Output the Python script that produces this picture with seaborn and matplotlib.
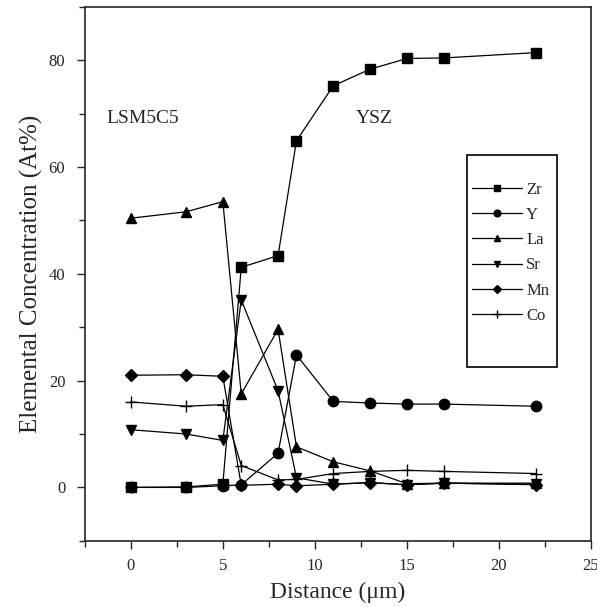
import pandas as pd
import numpy as np
import matplotlib
matplotlib.use('Agg')
import matplotlib.pyplot as plt
import matplotlib.ticker as ticker
import matplotlib.patches as patches
import seaborn as sns

# dados
distance = [0, 3, 5, 6, 8, 9, 11, 13, 15, 17, 22]
zr = [0.0, 0.1, 0.6, 41.2, 43.4, 64.9, 75.2, 78.3, 80.3, 80.4, 81.4]
y_ = [0.0, 0.0, 0.3, 0.5, 6.4, 24.8, 16.1, 15.8, 15.6, 15.6, 15.2]
la = [50.4, 51.6, 53.5, 17.5, 29.6, 7.6, 4.8, 3.1, 0.7, 0.8, 0.8]
sr = [10.8, 10.0, 8.8, 35.1, 18.1, 1.8, 0.6, 0.9, 0.5, 0.8, 0.6]
mn = [21.0, 21.1, 20.8, 0.4, 0.6, 0.3, 0.6, 0.9, 0.5, 0.8, 0.5]
co = [16.0, 15.2, 15.5, 4.1, 1.4, 1.5, 2.6, 3.0, 3.2, 3.0, 2.6]

elements = ['Zr', 'Y', 'La', 'Sr', 'Mn', 'Co']
series = [zr, y_, la, sr, mn, co]

df = pd.DataFrame({'distance': distance})
for el, vals in zip(elements, series):
    df[el] = vals
df_long = df.melt(id_vars='distance', var_name='element', value_name='conc')

#%%

sns.set_style('ticks')
plt.rcParams['font.family'] = ['Liberation Serif', 'DejaVu Serif']

fig = plt.figure(figsize=(5.97, 6.07), dpi=100)
ax = fig.add_axes([0.142, 0.109, 0.848, 0.880])

markers = {'Zr': 's', 'Y': 'o', 'La': '^', 'Sr': 'v', 'Mn': 'D', 'Co': '+'}
sizes_m = {'Zr': 7, 'Y': 7.5, 'La': 7.5, 'Sr': 7.5, 'Mn': 6, 'Co': 9}

for el in elements:
    sns.lineplot(
        data=df_long[df_long['element'] == el],
        x='distance', y='conc',
        color='black', linewidth=0.9,
        marker=markers[el], markersize=sizes_m[el],
        markeredgecolor='black', markerfacecolor='black',
        markeredgewidth=1.0,
        label=el, ax=ax
    )

ax.set_xlim(-2.5, 25)
ax.set_ylim(-10, 90)
ax.xaxis.set_major_locator(ticker.MultipleLocator(5))
ax.xaxis.set_minor_locator(ticker.MultipleLocator(2.5))
ax.yaxis.set_major_locator(ticker.FixedLocator([0, 20, 40, 60, 80]))
ax.yaxis.set_minor_locator(ticker.MultipleLocator(10))
ax.tick_params(which='major', direction='out', length=6, width=1, labelsize=12)
ax.tick_params(axis='x', which='major', pad=6)
ax.tick_params(axis='y', which='major', pad=8)
ax.tick_params(which='minor', direction='out', length=4, width=1)
for s in ax.spines.values():
    s.set_linewidth(1.2)

ax.set_xlabel('Distance (μm)', fontsize=17, labelpad=6)
ax.set_ylabel('Elemental Concentration (At%)', fontsize=18, labelpad=4)

ax.text(-1.3, 69, 'LSM5C5', fontsize=14, va='center')
ax.text(12.2, 69, 'YSZ', fontsize=14, va='center')

# caixa da legenda desenhada à parte
ax.add_patch(patches.Rectangle((0.755, 0.326), 0.178, 0.397, transform=ax.transAxes,
                               fill=False, edgecolor='black', linewidth=1.2, zorder=5))
leg = ax.legend(loc='upper left', bbox_to_anchor=(0.765, 0.672), fontsize=12,
                frameon=False, handlelength=3.0, labelspacing=0.55, borderpad=0,
                borderaxespad=0, handletextpad=0.25, markerscale=0.65)

plt.savefig('out.png', dpi=100)
